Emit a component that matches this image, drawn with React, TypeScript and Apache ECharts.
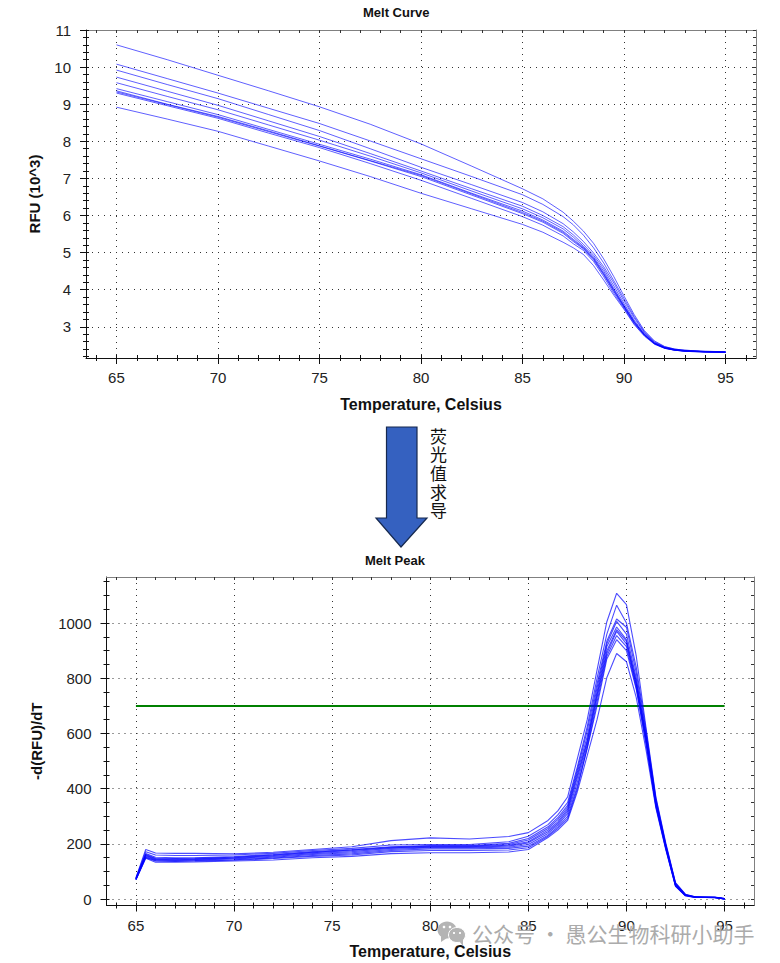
import React, { useEffect, useRef } from "react";
import * as echarts from "echarts";

const FONT = "'Liberation Sans', Arial, sans-serif";
const CJK = "'Noto Sans CJK SC', sans-serif";

const curveTemps = [65,67.5,70,72.5,75,77.5,80,82.5,85,86,87,87.5,88,88.5,89,89.5,90,90.5,91,91.5,92,92.5,93,94,95];
const curve1 = [10.6,10.2,9.78,9.36,8.93,8.46,7.93,7.33,6.72,6.45,6.09,5.85,5.58,5.25,4.83,4.35,3.83,3.33,2.9,2.62,2.47,2.4,2.37,2.34,2.33];
const curve2 = [10.08,9.69,9.3,8.89,8.48,8.01,7.53,7.05,6.56,6.3,5.97,5.75,5.47,5.13,4.72,4.24,3.76,3.28,2.87,2.6,2.46,2.4,2.37,2.34,2.33];
const curve3 = [9.92,9.53,9.15,8.72,8.29,7.8,7.3,6.83,6.35,6.1,5.78,5.56,5.3,4.99,4.62,4.18,3.7,3.24,2.85,2.58,2.45,2.39,2.36,2.33,2.32];
const curve4 = [9.73,9.35,8.97,8.55,8.13,7.67,7.2,6.72,6.25,6.0,5.7,5.48,5.22,4.93,4.56,4.1,3.63,3.18,2.82,2.57,2.44,2.38,2.35,2.33,2.32];
const curve5 = [9.58,9.21,8.85,8.44,8.03,7.6,7.15,6.66,6.18,5.94,5.64,5.42,5.17,4.88,4.5,4.03,3.58,3.15,2.8,2.56,2.44,2.38,2.35,2.33,2.32];
const curve6 = [9.42,9.07,8.72,8.32,7.92,7.52,7.1,6.6,6.12,5.88,5.58,5.36,5.14,4.85,4.45,4.0,3.56,3.13,2.79,2.55,2.43,2.38,2.35,2.33,2.32];
const curve7 = [9.33,8.99,8.65,8.26,7.87,7.47,7.05,6.55,6.05,5.82,5.52,5.3,5.1,4.8,4.4,3.95,3.53,3.11,2.78,2.55,2.43,2.37,2.35,2.32,2.31];
const curve8 = [9.3,8.96,8.62,8.22,7.83,7.4,6.95,6.46,5.97,5.74,5.45,5.24,5.06,4.76,4.35,3.9,3.5,3.08,2.77,2.54,2.42,2.37,2.34,2.32,2.31];
const curve9 = [9.36,9.0,8.67,8.28,7.88,7.48,7.08,6.58,6.08,5.85,5.55,5.33,5.12,4.83,4.42,3.97,3.54,3.12,2.78,2.55,2.43,2.37,2.35,2.33,2.31];
const curve10 = [8.92,8.6,8.27,7.87,7.47,7.05,6.6,6.18,5.76,5.55,5.28,5.13,4.95,4.65,4.26,3.85,3.47,3.06,2.75,2.53,2.42,2.37,2.34,2.32,2.31];
const curves = [curve1, curve2, curve3, curve4, curve5, curve6, curve7, curve8, curve9, curve10];

const peakTemps = [65,65.5,66,67,68,70,72,74,76,78,80,82,84,85,86,86.5,87,87.5,88,88.5,89,89.5,90,90.5,91,91.5,92,92.5,93,93.5,94,94.5,95];
const peak1 = [78,180,167,166,166,164,170,180,190,212,222,218,227,241,285,320,370,510,650,830,1005,1108,1067,880,620,370,205,60,18,9,8,8,2];
const peak2 = [76,172,160,158,158,160,166,176,184,196,198,198,208,228,270,305,350,480,625,800,960,1065,1000,840,610,365,200,58,17,9,8,7,2];
const peak3 = [75,165,152,150,150,154,162,172,180,190,194,194,202,220,262,295,340,470,610,780,935,1015,985,820,600,360,198,56,16,8,7,7,2];
const peak4 = [74,163,148,147,148,152,160,170,178,188,192,192,198,214,256,288,332,460,590,765,925,1006,960,800,590,355,195,54,16,8,7,7,2];
const peak5 = [73,160,146,145,146,150,158,168,176,186,190,190,195,208,250,280,325,450,575,750,915,986,940,790,585,350,193,52,15,8,7,6,1];
const peak6 = [72,158,144,143,144,148,155,165,172,184,188,188,192,204,244,274,318,440,570,740,900,976,935,780,580,345,190,51,14,7,7,6,1];
const peak7 = [71,155,142,141,142,146,152,162,168,180,186,186,188,198,238,268,310,425,560,730,890,970,925,775,575,342,188,50,14,7,7,6,1];
const peak8 = [70,152,140,139,140,143,149,158,164,176,182,182,184,192,232,262,300,410,545,700,870,940,900,760,560,338,185,48,13,7,6,6,1];
const peak9 = [72,150,138,137,138,141,147,155,160,172,176,176,178,186,228,256,292,400,550,715,880,955,915,765,565,335,183,47,13,6,6,5,1];
const peak10 = [70,148,134,134,135,138,142,150,155,165,168,168,171,180,223,250,285,390,520,650,803,890,860,730,540,330,180,46,12,6,6,5,1];
const peaks = [peak1, peak2, peak3, peak4, peak5, peak6, peak7, peak8, peak9, peak10];

const thresholdTemps = [65, 95];
const thresholdValue = 700;

const xMajor = [65, 70, 75, 80, 85, 90, 95];
const xMinor = [64,66,67,68,69,71,72,73,74,76,77,78,79,81,82,83,84,86,87,88,89,91,92,93,94,96];
const curveYMajor = [3, 4, 5, 6, 7, 8, 9, 10, 11];
const curveYMinor = [2.2,2.4,2.6,2.8,3.2,3.4,3.6,3.8,4.2,4.4,4.6,4.8,5.2,5.4,5.6,5.8,6.2,6.4,6.6,6.8,7.2,7.4,7.6,7.8,8.2,8.4,8.6,8.8,9.2,9.4,9.6,9.8,10.2,10.4,10.6,10.8];
const peakYMajor = [0, 200, 400, 600, 800, 1000];
const peakYMinor = [50,100,150,250,300,350,450,500,550,650,700,750,850,900,950,1050,1100,1150];

const XMIN = 63.5, XMAX = 96.5;

const noLine = { show: false, onZero: false };
const edgeLine = { show: true, onZero: false, lineStyle: { color: "#808080", width: 1 } };
const mainLine = { show: true, onZero: false, lineStyle: { color: "#111", width: 1 } };
const tickOf = (values: number[], length: number, inside = false, color = "#111") => ({
  show: true, customValues: values, length, inside, lineStyle: { color, width: 1 },
});

function axisSet(kind: "x" | "y", grid: number, min: number, max: number, major: number[], minor: number[], name: string, nameGap: number) {
  const all = [...major, ...minor];
  const near = kind === "x" ? "bottom" : "left";
  const far = kind === "x" ? "top" : "right";
  const base = { type: "value", gridIndex: grid, min, max, splitLine: { show: false }, axisLabel: { show: false } };
  return [
    {
      ...base, position: near, name, nameLocation: "middle", nameGap,
      nameTextStyle: { fontFamily: FONT, fontSize: kind === "x" ? 16 : 15, fontWeight: "bold", color: "#111" },
      axisLine: mainLine, axisTick: tickOf(major, 6),
      axisLabel: {
        show: true, customValues: major, margin: kind === "x" ? 12 : 15, fontFamily: FONT, fontSize: 15, color: "#222",
        showMinLabel: true, showMaxLabel: true, formatter: (v: number) => String(v),
      },
      splitLine: { show: true, lineStyle: { type: [1, 5], color: "#333", width: 1 } },
    },
    { ...base, position: near, axisLine: noLine, axisTick: tickOf(minor, 3) },
    { ...base, position: near, axisLine: noLine, axisTick: tickOf(all, 3, true) },
    { ...base, position: far, axisLine: edgeLine, axisTick: tickOf(all, 3, true, "#333") },
  ];
}

const lineSeries = (temps: number[], values: number[], x: number, y: number, width: number, index: number, label: string) => ({
  type: "line", name: `${label} ${index + 1}`, xAxisIndex: x, yAxisIndex: y, showSymbol: false, symbol: "none", smooth: false,
  lineStyle: { color: "#0000ff", width, opacity: 0.7 }, silent: true, z: 3,
  data: temps.map((t, i) => [t, values[i]]),
});

export default function App() {
  const ref = useRef<HTMLDivElement>(null);
  useEffect(() => {
    const chart = echarts.init(ref.current!, undefined, { renderer: "svg" });
    const option: any = {
      animation: false,
      backgroundColor: "#fff",
      title: [
        { text: "Melt Curve", left: 363, top: 6, padding: 0, textStyle: { fontFamily: FONT, fontSize: 13, fontWeight: "bold", color: "#111" } },
        { text: "Melt Peak", left: 365, top: 554, padding: 0, textStyle: { fontFamily: FONT, fontSize: 13, fontWeight: "bold", color: "#111" } },
      ],
      grid: [
        { left: 86, top: 30, width: 670, height: 328, containLabel: false, outerBoundsMode: "none" },
        { left: 106.5, top: 577, width: 647.5, height: 328.5, containLabel: false, outerBoundsMode: "none" },
      ],
      xAxis: [
        ...axisSet("x", 0, XMIN, XMAX, xMajor, xMinor, "Temperature, Celsius", 38),
        ...axisSet("x", 1, XMIN, XMAX, xMajor, xMinor, "Temperature, Celsius", 38),
      ],
      yAxis: [
        ...axisSet("y", 0, 2.16, 11, curveYMajor, curveYMinor, "RFU (10^3)", 44),
        ...axisSet("y", 1, -23, 1167, peakYMajor, peakYMinor, "-d(RFU)/dT", 63),
      ],
      series: [
        ...curves.map((c, i) => lineSeries(curveTemps, c, 0, 0, 0.9, i, "Melt curve")),
        ...peaks.map((c, i) => lineSeries(peakTemps, c, 4, 4, 1.1, i, "Melt peak")),
        {
          type: "line", name: "Threshold", xAxisIndex: 4, yAxisIndex: 4, showSymbol: false, symbol: "none", silent: true, z: 2,
          lineStyle: { color: "#008000", width: 2 },
          data: thresholdTemps.map((t) => [t, thresholdValue]),
        },
      ],
      graphic: [
        {
          type: "polygon", silent: true,
          shape: { points: [[386.5, 427], [417, 427], [417, 518], [427, 518], [401, 547], [376, 518], [386.5, 518]] },
          style: { fill: "#3561c0", stroke: "#16294f", lineWidth: 1.2 },
        },
        {
          type: "text", x: 430, y: 426, silent: true,
          style: { text: "荧\n光\n值\n求\n导", font: `17px ${CJK}`, fill: "#111", lineHeight: 18.6 },
        },
        { type: "ellipse", silent: true, z: 20, shape: { cx: 447, cy: 930, rx: 9.5, ry: 8.5 }, style: { fill: "#b4b4b4" } },
        { type: "polygon", silent: true, z: 20, shape: { points: [[441, 936], [441, 942], [447, 938]] }, style: { fill: "#b4b4b4" } },
        { type: "circle", silent: true, z: 20, shape: { cx: 444, cy: 927, r: 1.3 }, style: { fill: "#fff" } },
        { type: "circle", silent: true, z: 20, shape: { cx: 450, cy: 927, r: 1.3 }, style: { fill: "#fff" } },
        { type: "ellipse", silent: true, z: 21, shape: { cx: 457, cy: 935, rx: 8.5, ry: 7.5 }, style: { fill: "#b4b4b4", stroke: "#fff", lineWidth: 1 } },
        { type: "polygon", silent: true, z: 21, shape: { points: [[459, 941], [463, 946], [463, 939]] }, style: { fill: "#b4b4b4" } },
        { type: "circle", silent: true, z: 22, shape: { cx: 454, cy: 933, r: 1.1 }, style: { fill: "#fff" } },
        { type: "circle", silent: true, z: 22, shape: { cx: 460, cy: 933, r: 1.1 }, style: { fill: "#fff" } },
        {
          type: "text", x: 472, y: 922, silent: true, z: 23,
          style: { text: "公众号 · 愚公生物科研小助手", font: `21px ${CJK}`, fill: "#ababab" },
        },
      ],
    };
    chart.setOption(option);
    return () => chart.dispose();
  }, []);
  return <div ref={ref} style={{ position: "absolute", left: 0, top: 0, width: 780, height: 963 }} />;
}
